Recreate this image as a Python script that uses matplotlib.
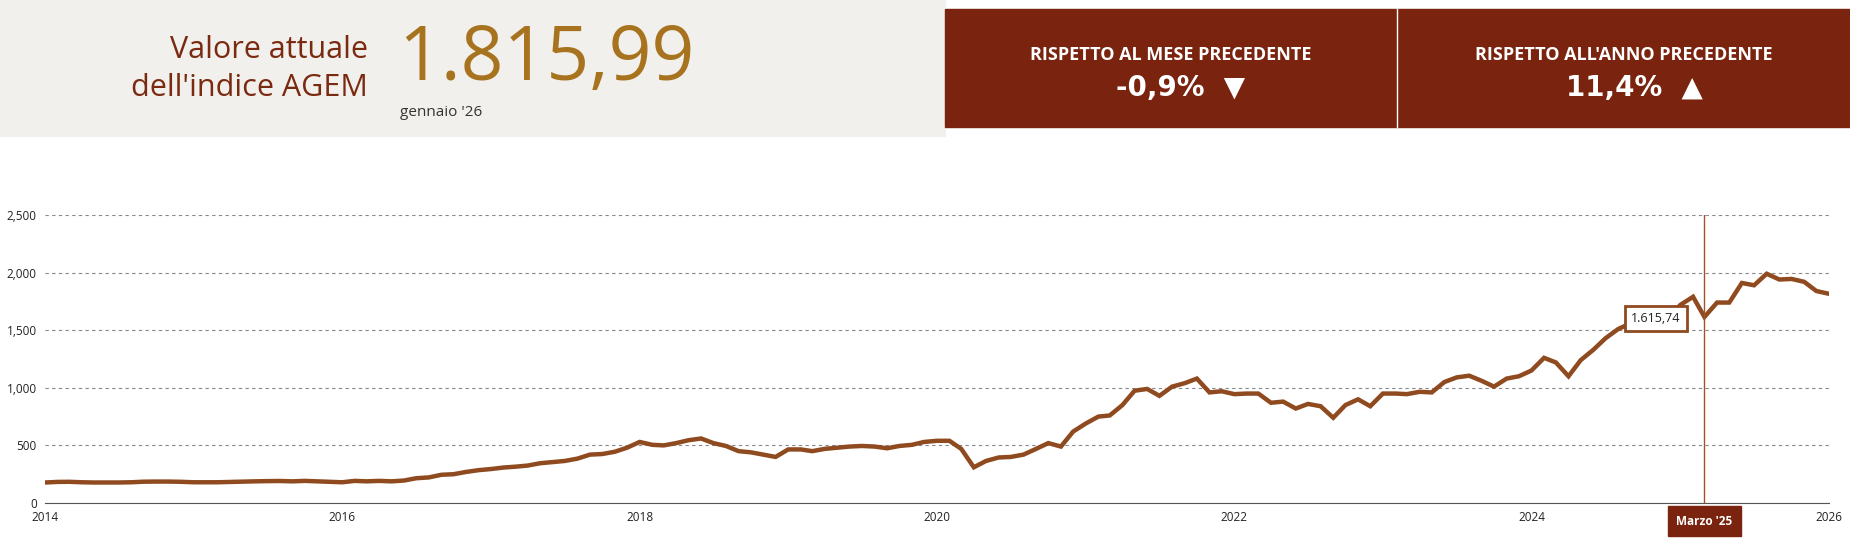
import numpy as np
import pandas as pd
import matplotlib
matplotlib.use('Agg')
import matplotlib.pyplot as plt
import matplotlib.dates as mdates
from matplotlib.patches import Rectangle

# monthly index values, Jan 2014 - Jan 2026
values = [
    178, 183, 184, 180, 178, 178, 178, 180, 185, 186, 186, 184,
    180, 180, 180, 183, 186, 188, 190, 191, 188, 192, 188, 185,
    180, 192, 188, 192, 188, 195, 215, 222, 245, 250, 270, 285,
    295, 308, 315, 325, 345, 355, 365, 385, 420, 425, 445, 480,
    530, 505, 500, 520, 545, 560, 520, 495, 450, 440, 420, 400,
    465, 465, 450, 470, 480, 490, 495, 490, 475, 495, 505, 530,
    540, 540, 470, 310, 365, 395, 400, 420, 470, 520, 490, 620,
    690, 750, 760, 850, 975, 990, 930, 1010, 1040, 1080, 960, 970,
    945, 950, 950, 870, 880, 820, 860, 840, 740, 850, 900, 840,
    950, 950, 945, 965, 960, 1050, 1090, 1105, 1060, 1010, 1080, 1100,
    1150, 1260, 1220, 1100, 1240, 1330, 1430, 1510, 1560, 1590, 1630, 1600,
    1720, 1790, 1615, 1740, 1740, 1910, 1890, 1990, 1940, 1945, 1920, 1840,
    1816,
]
dates = pd.date_range('2014-01-01', periods=len(values), freq='MS')

current_value = '1.815,99'
current_label = 'gennaio \'26'
month_change = '-0,9%'
year_change = '11,4%'
hover_date = pd.Timestamp('2025-03-01')
hover_value = '1.615,74'

line_col = '#8f4a1f'
box_col = '#7a230e'
W, H = 1850, 538

fig = plt.figure(figsize=(W / 100, H / 100), dpi=100)
plt.rcParams['font.family'] = ['Open Sans', 'DejaVu Sans']

# header panels
fig.patches.append(Rectangle((0, 1 - 136 / H), 945 / W, 136 / H, transform=fig.transFigure,
                             color='#f1f0ec', zorder=0))
fig.patches.append(Rectangle((945 / W, 1 - 127 / H), 905 / W, 118 / H, transform=fig.transFigure,
                             color=box_col, zorder=1))
fig.add_artist(plt.Line2D([1397 / W, 1397 / W], [1 - 127 / H, 1 - 9 / H], color='white', lw=1))

fig.text(368 / W, 1 - 50 / H, 'Valore attuale', ha='right', va='center', fontsize=22, color='#7a2a10')
fig.text(368 / W, 1 - 88 / H, "dell'indice AGEM", ha='right', va='center', fontsize=22, color='#7a2a10')
fig.text(398 / W, 1 - 60 / H, current_value, ha='left', va='center', fontsize=54, color='#a8731f')
fig.text(400 / W, 1 - 113 / H, current_label, ha='left', va='center', fontsize=11, color='#333333')

for cx, title, val, up in [(1171, 'RISPETTO AL MESE PRECEDENTE', month_change, False),
                           (1624, "RISPETTO ALL'ANNO PRECEDENTE", year_change, True)]:
    fig.text(cx / W, 1 - 55 / H, title, ha='center', va='center', fontsize=13,
             color='white', fontweight='bold')
    fig.text((cx + 10) / W, 1 - 88 / H, val + ('  \u25b2' if up else '  \u25bc'), ha='center',
             va='center', fontsize=20, color='white', fontweight='bold',
             family=['DejaVu Sans'])

# chart
ax = fig.add_axes([45 / W, 1 - 503 / H, (1829 - 45) / W, 288 / H])
ax.plot(dates, values, color=line_col, lw=3.2, solid_joinstyle='miter', zorder=3)
ax.set_ylim(0, 2500)
ax.set_xlim(pd.Timestamp('2014-01-01'), pd.Timestamp('2026-01-01'))
ax.set_yticks(range(0, 2501, 500))
ax.set_yticklabels(['0', '500', '1,000', '1,500', '2,000', '2,500'])
ax.xaxis.set_major_locator(mdates.YearLocator(2))
ax.xaxis.set_major_formatter(mdates.DateFormatter('%Y'))
ax.grid(axis='y', ls=(0, (3, 3)), color='#888888', lw=0.8)
for s in ['top', 'right', 'left']:
    ax.spines[s].set_visible(False)
ax.spines['bottom'].set_color('#555555')
ax.tick_params(length=0, labelsize=8.5, colors='#222222')
ax.tick_params(axis='x', pad=6)
ax.tick_params(axis='y', pad=6)
for lab in ax.get_yticklabels():
    lab.set_horizontalalignment('right')

ax.axvline(hover_date, color='#a0522d', lw=1, zorder=4)
ax.annotate(hover_value, xy=(pd.Timestamp('2024-11-01'), 1600), ha='center', va='center',
            fontsize=9, color='#222222', zorder=5,
            bbox=dict(boxstyle='square,pad=0.5', fc='white', ec='#8f4a1f', lw=2))
ax.annotate("Marzo '25", xy=(hover_date, 0), xytext=(0, -13), textcoords='offset points',
            ha='center', va='center', fontsize=8.5, color='white', fontweight='bold',
            bbox=dict(boxstyle='square,pad=0.7', fc=box_col, ec=box_col), annotation_clip=False)

fig.savefig('out.png', dpi=100)
